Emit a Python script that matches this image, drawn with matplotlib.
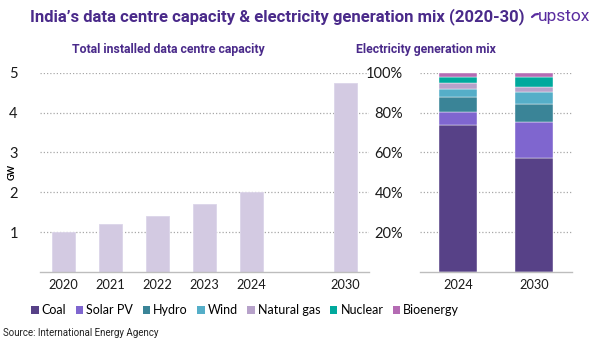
import matplotlib.pyplot as plt
import numpy as np
from matplotlib.patches import Patch
from matplotlib.lines import Line2D

# data centre capacity, GW
years = ["2020", "2021", "2022", "2023", "2024", "2030"]
year_pos = [0, 1, 2, 3, 4, 6]
capacity_gw = [1.0, 1.2, 1.4, 1.7, 2.0, 4.75]

# electricity generation mix, share of total (%)
mix_years = ["2024", "2030"]
sources = ["Coal", "Solar PV", "Hydro", "Wind", "Natural gas", "Nuclear", "Bioenergy"]
share_2024 = [74.0, 6.5, 7.5, 4.0, 3.0, 2.7, 2.3]
share_2030 = [57.0, 18.5, 8.7, 5.9, 2.8, 4.7, 2.4]
colors = ["#574187", "#7F66CF", "#3A8497", "#55AEC8", "#B7A2CA", "#00A99D", "#B46BB3"]

title_col = "#4A2A8A"
tick_font = "Lato"

W, H = 602, 342
fig = plt.figure(figsize=(W / 100, H / 100), dpi=100)
fig.patch.set_facecolor("white")


def px_axes(x0, x1, ytop, ybot):
    return fig.add_axes([x0 / W, 1 - ybot / H, (x1 - x0) / W, (ybot - ytop) / H])


def style(ax):
    for s in ["top", "right", "left"]:
        ax.spines[s].set_visible(False)
    ax.spines["bottom"].set_color("#BDBDBD")
    ax.spines["bottom"].set_linewidth(1.0)
    ax.tick_params(length=0)
    ax.grid(axis="y", linestyle=(0, (1, 1.6)), color="#A8A8A8", linewidth=0.9)
    ax.set_axisbelow(True)


# left: installed capacity
ax1 = px_axes(40, 369, 72.7, 272)
ax1.bar(year_pos, capacity_gw, width=0.5, color="#D3CAE2", edgecolor="#DCD5E9", linewidth=0.6)
ax1.set_xlim(-0.5, 6.5)
ax1.set_ylim(0, 5)
ax1.set_yticks([1, 2, 3, 4, 5])
ax1.set_xticks(year_pos)
ax1.set_xticklabels(years)
style(ax1)
ax1.tick_params(axis="y", pad=16, labelsize=10.5)
ax1.tick_params(axis="x", pad=5, labelsize=9.2)
for t in ax1.get_xticklabels() + ax1.get_yticklabels():
    t.set_fontfamily(tick_font)
    t.set_color("#1A1A1A")
ax1.set_ylabel("GW", fontsize=6.5, fontweight="bold", family=tick_font)
ax1.yaxis.set_label_coords(-0.07, 0.5)

# right: generation mix stacked
ax2 = px_axes(420, 571.7, 72.7, 272)
x2 = np.arange(len(mix_years))
shares = np.array([share_2024, share_2030])
bottom = np.zeros(len(mix_years))
for i, src in enumerate(sources):
    ax2.bar(x2, shares[:, i], bottom=bottom, width=0.5, color=colors[i],
            edgecolor="white", linewidth=0.3, label=src)
    bottom += shares[:, i]
ax2.set_xlim(-0.5, 1.5)
ax2.set_ylim(0, 100)
ax2.set_yticks([20, 40, 60, 80, 100])
ax2.set_yticklabels([f"{v}%" for v in [20, 40, 60, 80, 100]])
ax2.set_xticks(x2)
ax2.set_xticklabels(mix_years)
style(ax2)
ax2.tick_params(axis="y", pad=12, labelsize=10.5)
ax2.tick_params(axis="x", pad=5, labelsize=9.2)
for t in ax2.get_xticklabels() + ax2.get_yticklabels():
    t.set_fontfamily(tick_font)
    t.set_color("#1A1A1A")

# titles
fig.text(30 / W, 1 - 17 / H, "India’s data centre capacity & electricity generation mix (2020-30)",
         fontsize=12, fontweight="bold", family="Roboto", color=title_col, va="center", ha="left")

# logo: small hook stroke + wordmark
fig.add_artist(Line2D([532 / W, 535 / W, 538 / W], [1 - 17 / H, 1 - 14.5 / H, 1 - 14 / H],
                      color="#5A2DA0", linewidth=1.6, solid_capstyle="round"))
fig.text(538 / W, 1 - 16 / H, "upstox", fontsize=12.5, family="Roboto", color="#5A2DA0",
         va="center", ha="left")

fig.text(168 / W, 1 - 50 / H, "Total installed data centre capacity", fontsize=8.8,
         fontweight="bold", family="Roboto", color=title_col, va="center", ha="center")
fig.text(426 / W, 1 - 50 / H, "Electricity generation mix", fontsize=8.8,
         fontweight="bold", family="Roboto", color=title_col, va="center", ha="center")

# legend
handles = [Patch(facecolor=c, edgecolor="none") for c in colors]
fig.legend(handles, sources, loc="center left", bbox_to_anchor=(31 / W, 1 - 310 / H),
           ncol=7, frameon=False, handlelength=0.6, handleheight=0.6, handletextpad=0.25,
           columnspacing=0.75, prop={"family": tick_font, "size": 9}, borderaxespad=0,
           borderpad=0)

fig.text(3 / W, 1 - 333 / H, "Source: International Energy Agency", fontsize=7,
         family="Roboto", color="#222222", va="center", ha="left")

fig.savefig("out.png", dpi=100)
